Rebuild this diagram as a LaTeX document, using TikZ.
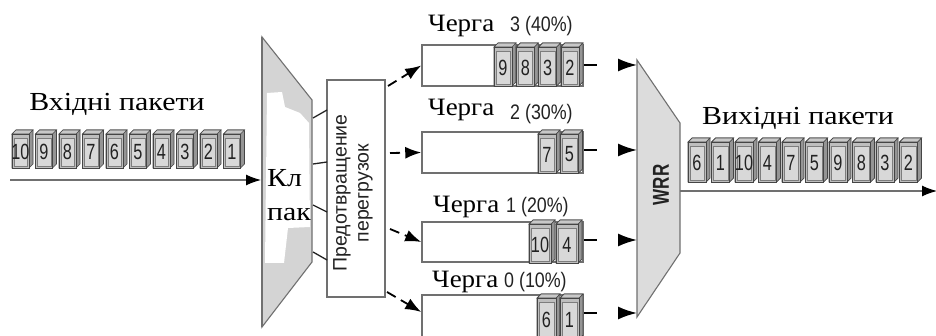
\documentclass[tikz,border=0pt]{standalone}
\usepackage{fontspec}
\setmainfont{Liberation Serif}
\newfontfamily\lblfont[FakeStretch=1.15]{Liberation Serif}
\newfontfamily\qlblfont[FakeStretch=1.08]{Liberation Serif}
\newfontfamily\narrowfont[FakeStretch=0.74]{Liberation Sans}
\newfontfamily\qnumfont[FakeStretch=0.85]{Liberation Sans}
\newfontfamily\plainsans{Liberation Sans}
\usetikzlibrary{arrows.meta}

\definecolor{trapfill}{HTML}{D4D4D4}
\definecolor{wrrfill}{HTML}{DCDCDC}
\definecolor{edgegray}{HTML}{707070}
\definecolor{pktside}{HTML}{959595}
\definecolor{pkttop}{HTML}{C8C8C8}
\definecolor{pktfront}{HTML}{BEBEBE}
\definecolor{pktinner}{HTML}{D8D8D8}
\definecolor{pktline}{HTML}{454545}
\definecolor{txtdark}{HTML}{222222}

\tikzset{
  trap/.style={draw=edgegray, line width=1.1pt},
  qbox/.style={draw=edgegray, line width=1.5pt, fill=white, minimum width=161pt, inner sep=0pt},
  pktedge/.style={draw=pktline, line width=0.7pt},
  pktnum/.style={font=\narrowfont\fontsize{22}{22}\selectfont, text=txtdark, inner sep=0pt},
  biglabel/.style={font=\lblfont\fontsize{26}{26}\selectfont, text=black, inner sep=0pt},
  qlabel/.style={font=\qlblfont\fontsize{25}{25}\selectfont, text=black, inner sep=0pt},
  qnum/.style={font=\qnumfont\fontsize{21}{21}\selectfont, text=txtdark, inner sep=0pt},
  flow/.style={line width=1.3pt, draw=edgegray, -{Latex[length=15pt,width=11pt,color=black]}},
  gapflow/.style={line width=1.8pt, dash pattern=on 13pt off 30pt, -{Latex[length=19pt,width=13pt]}},
  tick/.style={line width=1.3pt, draw=txtdark},
}

% one packet: name, left x, top y, width, height, number
\newcommand{\pkt}[6]{%
  \filldraw[pktedge, fill=pktside]
    (#2,#3+4) -- (#2+4,#3) -- (#2+#4,#3) -- (#2+#4,#3+#5-4) -- (#2+#4-4,#3+#5) -- (#2,#3+#5) -- cycle;
  \filldraw[pktedge, fill=pkttop]
    (#2,#3+4) -- (#2+4,#3) -- (#2+#4,#3) -- (#2+#4-4,#3+4) -- cycle;
  \filldraw[pktedge, fill=pktfront] (#2,#3+4) rectangle (#2+#4-4,#3+#5);
  \filldraw[draw=pktline!70, line width=0.4pt, fill=pktinner] (#2+1.8,#3+8) rectangle (#2+#4-5.8,#3+#5-2);
  \node[pktnum] (#1) at (#2+#4/2-2,#3+#5/2+3) {#6};
}

\begin{document}
\begin{tikzpicture}[x=1pt,y=-1pt]
\useasboundingbox (0,0) rectangle (936,336);
\clip (0,0) rectangle (936,336);
\fill[white] (0,0) rectangle (936,336);

% ---------- input stream ----------
\node[biglabel] (inlabel) at (117,104) {Вхідні пакети};
\foreach \n [count=\i from 0] in {10,9,...,1}
  \pkt{in\n}{12+23.5*\i}{130}{21}{38}{\n};
\coordinate (instart) at (10,180);
\coordinate (clsin) at (261,180);
\draw[flow] (instart) -- (clsin);

% ---------- classifier ----------
\draw[trap, fill=trapfill] (262,37) -- (312,100) -- (312,262) -- (262,327) -- cycle;
\fill[white] (267,93) -- (282,92) -- (285,107) -- (300,113) -- (309,123) -- (310,227)
  -- (288,228) -- (284,263) -- (265,263) -- cycle;
\draw[edgegray, line width=1.1pt] (262,37) -- (262,327);
\node[biglabel, anchor=base west] (clsa) at (267,187) {Кл};
\node[biglabel, anchor=base west] (clsb) at (267,221) {пак};

% ---------- congestion avoidance ----------
\node[draw=edgegray, line width=1.2pt, fill=white, minimum width=58pt, minimum height=217pt, inner sep=0pt] (cong) at (356,188.5) {};
\node[rotate=90, align=center, font=\plainsans\fontsize{19.5}{22}\selectfont, text=txtdark, inner sep=0pt] (congtxt) at (353,193) {Предотвращение\\перегрузок};

\coordinate (c1a) at (313,118); \coordinate (c1b) at (327,110);
\coordinate (c2a) at (313,164); \coordinate (c2b) at (327,162);
\coordinate (c3a) at (313,205); \coordinate (c3b) at (327,212);
\coordinate (c4a) at (313,252); \coordinate (c4b) at (327,260);
\draw[tick] (c1a) -- (c1b);
\draw[tick] (c2a) -- (c2b);
\draw[tick] (c3a) -- (c3b);
\draw[tick] (c4a) -- (c4b);

% ---------- queues ----------
\node[qbox, minimum height=41pt] (q3) at (502.5,65.5) {};
\node[qbox, minimum height=41pt] (q2) at (502.5,152.5) {};
\node[qbox, minimum height=40pt] (q1) at (502.5,242) {};
\node[qbox, minimum height=44pt] (q0) at (502.5,317) {};

\foreach \n [count=\i from 0] in {9,8,3,2}
  \pkt{qa\n}{494+22.3*\i}{43}{22}{43}{\n};
\foreach \n [count=\i from 0] in {7,5}
  \pkt{qb\n}{538+22.5*\i}{130}{22}{43}{\n};
\foreach \n [count=\i from 0] in {10,4}
  \pkt{qc\n}{529+27*\i}{220}{26}{43}{\n};
\foreach \n [count=\i from 0] in {6,1}
  \pkt{qd\n}{537+23*\i}{294}{23}{45}{\n};

\node[qlabel, anchor=base west] (l3) at (428,32) {Черга};
\node[qnum, anchor=base west] (n3) at (510,32) {3 (40\%)};
\node[qlabel, anchor=base west] (l2) at (428,116) {Черга};
\node[qnum, anchor=base west] (n2) at (510,120) {2 (30\%)};
\node[qlabel, anchor=base west] (l1) at (433,213) {Черга};
\node[qnum, anchor=base west] (n1) at (506,213) {1 (20\%)};
\node[qlabel, anchor=base west] (l0) at (432,288) {Черга};
\node[qnum, anchor=base west] (n0) at (504,288) {0 (10\%)};

% arrows from congestion avoidance into the queues
\coordinate (e3) at (388,86);
\coordinate (e2) at (390,153);
\coordinate (e1) at (390,229);
\coordinate (e0) at (387,292);
\draw[gapflow, dash pattern=on 10pt off 6pt, -{Latex[length=16pt,width=12pt]}] (e3) -- (q3.west);
\draw[gapflow, dash pattern=on 10pt off 6pt, -{Latex[length=16pt,width=12pt]}] (e2) -- (q2.west);
\draw[gapflow, dash pattern=on 10pt off 6pt, -{Latex[length=16pt,width=12pt]}] (e1) -- (q1.west);
\draw[gapflow, dash pattern=on 10pt off 6pt, -{Latex[length=16pt,width=12pt]}] (e0) -- ([yshift=5pt]q0.west);

% ---------- WRR scheduler ----------
\draw[trap, fill=wrrfill] (637,60) -- (680,123) -- (680,253) -- (637,317) -- cycle;
\node[rotate=90, font=\narrowfont\bfseries\fontsize{23}{23}\selectfont, text=txtdark, inner sep=0pt] (wrr) at (661,185) {WRR};

\coordinate (w3) at (637,65);
\coordinate (w2) at (637,150);
\coordinate (w1) at (637,240);
\coordinate (w0) at (637,313);
\draw[gapflow] (q3.east |- w3) -- (w3);
\draw[gapflow] (q2.east |- w2) -- (w2);
\draw[gapflow] (q1.east |- w1) -- (w1);
\draw[gapflow] (q0.east |- w0) -- (w0);

% ---------- output stream ----------
\node[biglabel] (outlabel) at (798,118) {Вихідні пакети};
\foreach \n [count=\i from 0] in {6,1,10,4,7,5,9,8,3,2}
  \pkt{out\n}{688+23.5*\i}{138}{22}{44}{\n};
\coordinate (wrrout) at (680,191);
\coordinate (outend) at (937,191);
\draw[flow] (wrrout) -- (outend);
\end{tikzpicture}
\end{document}
